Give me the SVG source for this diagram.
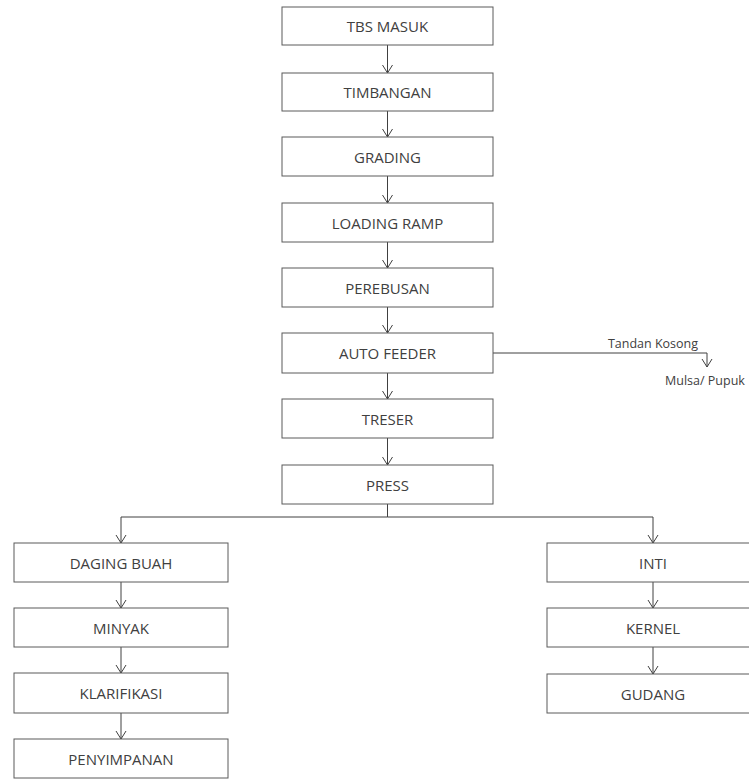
<svg xmlns="http://www.w3.org/2000/svg" width="749" height="779" viewBox="0 0 749 779">
<style>
.box{fill:#fff;stroke:#5a5a5a;stroke-width:1}
.lbl{font-family:"Open Sans","Liberation Sans",sans-serif;font-size:15px;fill:#404040;text-anchor:middle;dominant-baseline:central}
.sm{font-family:"Open Sans","Liberation Sans",sans-serif;font-size:12.5px;fill:#404040}
.c{fill:none;stroke:#404040;stroke-width:1}
</style>
<defs>
<marker id="arr" viewBox="0 0 12 12" refX="10" refY="6" markerWidth="12" markerHeight="12" markerUnits="userSpaceOnUse" orient="auto">
<path d="M2,1 L10,6 L2,11" fill="none" stroke="#404040" stroke-width="1"/>
</marker>
</defs>
<rect width="749" height="779" fill="#fff"/>
<g id="connectors">
<line class="c" x1="387.5" y1="45" x2="387.5" y2="73" marker-end="url(#arr)"/>
<line class="c" x1="387.5" y1="111" x2="387.5" y2="137" marker-end="url(#arr)"/>
<line class="c" x1="387.5" y1="176" x2="387.5" y2="203" marker-end="url(#arr)"/>
<line class="c" x1="387.5" y1="242" x2="387.5" y2="268" marker-end="url(#arr)"/>
<line class="c" x1="387.5" y1="307" x2="387.5" y2="333" marker-end="url(#arr)"/>
<line class="c" x1="387.5" y1="373" x2="387.5" y2="399" marker-end="url(#arr)"/>
<line class="c" x1="387.5" y1="438" x2="387.5" y2="465" marker-end="url(#arr)"/>
<polyline class="c" points="493,353 707,353 707,367" marker-end="url(#arr)"/>
<line class="c" x1="387.5" y1="504" x2="387.5" y2="517"/>
<polyline class="c" points="387.5,517 121,517 121,543" marker-end="url(#arr)"/>
<polyline class="c" points="387.5,517 653,517 653,543" marker-end="url(#arr)"/>
<line class="c" x1="121" y1="582" x2="121" y2="608" marker-end="url(#arr)"/>
<line class="c" x1="121" y1="647" x2="121" y2="673" marker-end="url(#arr)"/>
<line class="c" x1="121" y1="713" x2="121" y2="739" marker-end="url(#arr)"/>
<line class="c" x1="653" y1="582" x2="653" y2="608" marker-end="url(#arr)"/>
<line class="c" x1="653" y1="647" x2="653" y2="674" marker-end="url(#arr)"/>
</g>
<g id="n1"><rect class="box" x="282" y="7" width="211" height="38"/><text class="lbl" x="387.5" y="26">TBS MASUK</text></g>
<g id="n2"><rect class="box" x="282" y="73" width="211" height="38"/><text class="lbl" x="387.5" y="92">TIMBANGAN</text></g>
<g id="n3"><rect class="box" x="282" y="137" width="211" height="39"/><text class="lbl" x="387.5" y="156.5">GRADING</text></g>
<g id="n4"><rect class="box" x="282" y="203" width="211" height="39"/><text class="lbl" x="387.5" y="222.5">LOADING RAMP</text></g>
<g id="n5"><rect class="box" x="282" y="268" width="211" height="39"/><text class="lbl" x="387.5" y="287.5">PEREBUSAN</text></g>
<g id="n6"><rect class="box" x="282" y="333" width="211" height="40"/><text class="lbl" x="387.5" y="353">AUTO FEEDER</text></g>
<g id="n7"><rect class="box" x="282" y="399" width="211" height="39"/><text class="lbl" x="387.5" y="418.5">TRESER</text></g>
<g id="n8"><rect class="box" x="282" y="465" width="211" height="39"/><text class="lbl" x="387.5" y="484.5">PRESS</text></g>
<g id="tk"><text class="sm" x="653" y="348" text-anchor="middle">Tandan Kosong</text></g>
<g id="mp"><text class="sm" x="665" y="385">Mulsa/ Pupuk</text></g>
<g id="l1"><rect class="box" x="14" y="543" width="214" height="39"/><text class="lbl" x="121" y="562.5">DAGING BUAH</text></g>
<g id="l2"><rect class="box" x="14" y="608" width="214" height="39"/><text class="lbl" x="121" y="627.5">MINYAK</text></g>
<g id="l3"><rect class="box" x="14" y="673" width="214" height="40"/><text class="lbl" x="121" y="693">KLARIFIKASI</text></g>
<g id="l4"><rect class="box" x="14" y="739" width="214" height="39"/><text class="lbl" x="121" y="758.5">PENYIMPANAN</text></g>
<g id="r1"><rect class="box" x="547" y="543" width="212" height="39"/><text class="lbl" x="653" y="562.5">INTI</text></g>
<g id="r2"><rect class="box" x="547" y="608" width="212" height="39"/><text class="lbl" x="653" y="627.5">KERNEL</text></g>
<g id="r3"><rect class="box" x="547" y="674" width="212" height="39"/><text class="lbl" x="653" y="693.5">GUDANG</text></g>
</svg>
